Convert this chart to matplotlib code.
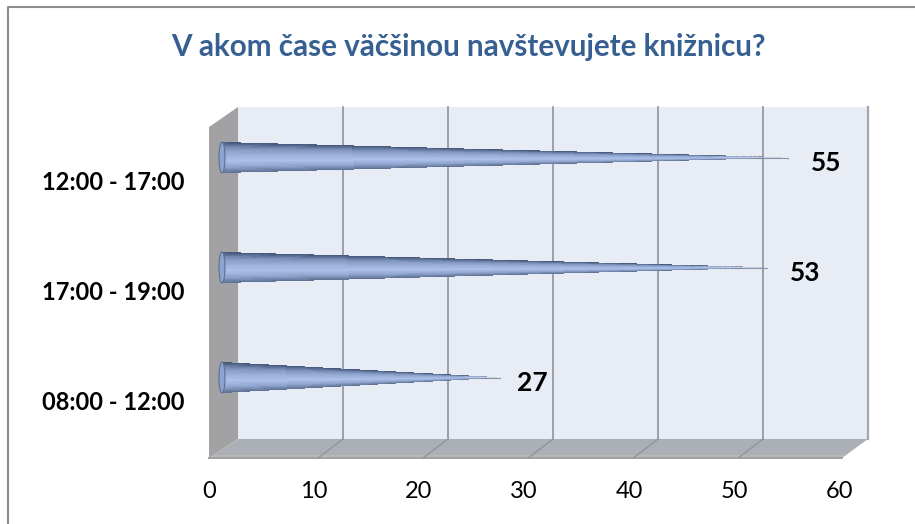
import numpy as np
import matplotlib
matplotlib.use('Agg')
import matplotlib.pyplot as plt
from matplotlib.colors import LinearSegmentedColormap
from matplotlib.patches import Ellipse, Polygon

title = 'V akom čase väčšinou navštevujete knižnicu?'
categories = ['08:00 - 12:00', '17:00 - 19:00', '12:00 - 17:00']
values = [27, 53, 55]
x_ticks = [0, 10, 20, 30, 40, 50, 60]

plt.rcParams['font.family'] = ['Lato', 'DejaVu Sans']

W, H = 915, 524
PX_PER_UNIT = 10.5      # pixels per 1 value on x
PX_PER_CAT = 110.0      # pixels between bars
X0_PX = 222             # where value 0 of the bars sits
Y0_PX = 377.5           # where the first category sits
BACK_DX = (238 - X0_PX) / PX_PER_UNIT    # back wall shift
FRONT_DX = (209 - X0_PX) / PX_PER_UNIT   # front edge shift


def xu(px):
    return (px - X0_PX) / PX_PER_UNIT


def yu(px):
    return (Y0_PX - px) / PX_PER_CAT


fig = plt.figure(figsize=(W / 100, H / 100), dpi=100, facecolor='white')
ax = fig.add_axes([0, 0, 1, 1])
ax.set_xlim(xu(0), xu(W))
ax.set_ylim(yu(H), yu(0))
ax.axis('off')

# outer frame, only left and top are inside the picture
ax.plot([xu(8.5), xu(8.5), xu(W)], [yu(H), yu(6.5), yu(6.5)], color='#8c8c8c', lw=1.5, zorder=1)

top_back, bot_back = yu(107), yu(439)
top_front, bot_front = yu(127), yu(458)
right_back = 60 + BACK_DX
right_front = xu(842)

# back wall
ax.add_patch(Polygon([(BACK_DX, top_back), (right_back, top_back), (right_back, bot_back), (BACK_DX, bot_back)],
                     fc='#e8ecf5', ec='none', zorder=2))
ax.plot([right_back, right_back], [top_back, bot_back], color='#a3a6ab', lw=1.6, zorder=3)

# left wall
ax.add_patch(Polygon([(FRONT_DX, top_front), (BACK_DX, top_back), (BACK_DX, bot_back), (FRONT_DX, bot_front)],
                     fc='#a2a2a4', ec='none', zorder=2))

# floor
ax.add_patch(Polygon([(FRONT_DX, bot_front), (BACK_DX, bot_back), (right_back, bot_back), (right_front, bot_front)],
                     fc='#abafb6', ec='none', zorder=2))
ax.add_patch(Polygon([(FRONT_DX, bot_front), (xu(213), yu(455)), (xu(846), yu(455)), (right_front, bot_front)],
                     fc='#b9b9b4', ec='none', zorder=3))
ax.plot([FRONT_DX, right_front], [bot_front, bot_front], color='#a0a0a0', lw=1.4, zorder=3)

# gridlines on the wall and on the floor
for t in x_ticks[1:-1]:
    ax.plot([t + BACK_DX, t + BACK_DX], [top_back, bot_back], color='#8f939b', lw=1.2, zorder=4)
    ax.plot([t + BACK_DX, t + FRONT_DX + 0.4], [bot_back, bot_front], color='#92959b', lw=1.0, zorder=4)

# tapered bars, the tip fades out like in the original
cone = LinearSegmentedColormap.from_list('cone', ['#5d6f92', '#90a6cf', '#abc0ea', '#9ab0d9', '#7f95bd', '#44557a'])
half_px = 15.5
for i, v in enumerate(values):
    xs = np.linspace(0, v * 0.97, 260)
    t = np.linspace(-1, 1, 25)
    half = (half_px / PX_PER_CAT) * (1 - xs / v)
    X, T = np.meshgrid(xs, t)
    Y = i + T * half[None, :]
    rgba = cone((t[:-1, None] + t[1:, None] + 2) / 4 * np.ones((24, 259)))
    xc = (xs[:-1] + xs[1:]) / 2
    rgba[..., 3] = np.clip((v - xc) / (0.16 * v), 0.45, 1)[None, :]
    ax.plot([v * 0.7, v * 0.98], [i, i], color='#8e96a6', lw=0.8, zorder=4.5)
    ax.pcolormesh(X, Y, rgba, shading='flat', zorder=5, rasterized=True)
    ax.add_patch(Ellipse((0, i), 6 / PX_PER_UNIT, 2 * half_px / PX_PER_CAT, fc='#8ea5d0', ec='#5d6f92', lw=0.8, zorder=6))
    ax.text(v + 27 / PX_PER_UNIT, i - 5.5 / PX_PER_CAT, str(v), ha='center', va='center',
            fontsize=19, fontweight='bold', color='black', zorder=7)
    ax.text(xu(185), i - 25.5 / PX_PER_CAT, categories[i], ha='right', va='center',
            fontsize=17, fontweight='bold', color='black', zorder=7)

# value axis labels follow the front edge of the floor
for t in x_ticks:
    ax.text(t + FRONT_DX, yu(491), str(t), ha='center', va='center', fontsize=17, color='black', zorder=7)

ax.text(xu(468), yu(47), title, ha='center', va='center', fontsize=21.3, fontweight='bold', color='#376092', zorder=7)

fig.savefig('out.png', dpi=100)
